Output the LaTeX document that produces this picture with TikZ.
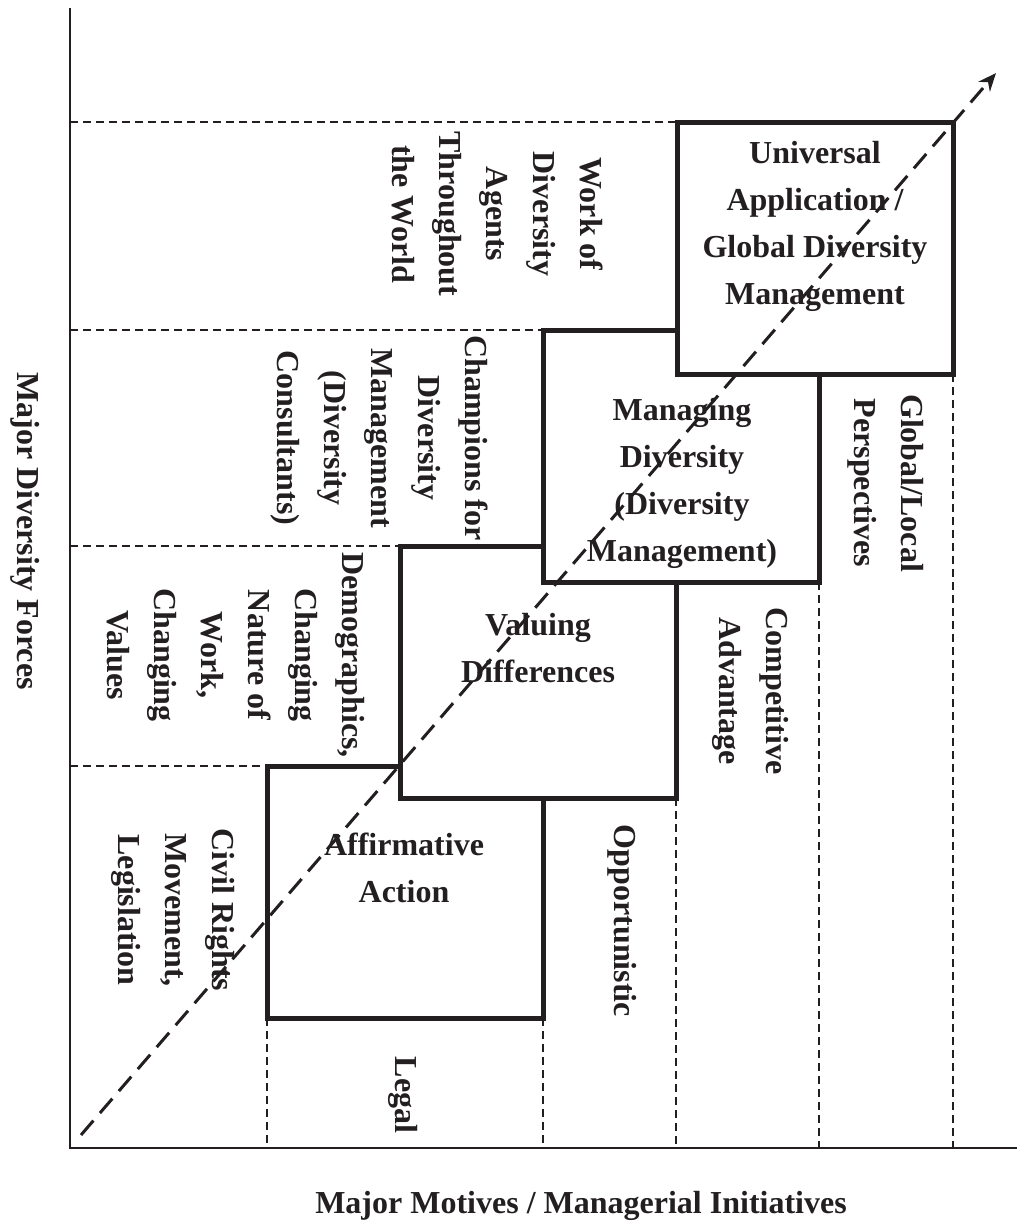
\documentclass[tikz,border=0pt]{standalone}
\usepackage{fontspec}
\setmainfont{Liberation Serif}
\usepackage{xcolor}
\usepackage{tikz}
\usetikzlibrary{arrows.meta}
\definecolor{ink}{RGB}{35,31,32}

\begin{document}
\begin{tikzpicture}[
    x=0.5pt, y=-0.5pt,
    every node/.style={text=ink, font=\bfseries\fontsize{16}{23.5}\selectfont},
    stage/.style={rectangle, draw=ink, fill=white, line width=2.5pt, outer sep=0pt, inner sep=0pt, minimum width=138pt, minimum height=126pt},
    stagetext/.style={align=center, inner sep=0pt},
    force/.style={align=center, rotate=-90, inner sep=0pt},
    axis/.style={draw=ink, line width=0.8pt},
    guide/.style={draw=ink, line width=0.6pt, dash pattern=on 4pt off 2.5pt},
    trend/.style={-{Stealth[length=9pt, width=7.5pt]}, draw=ink, line width=1.5pt, dash pattern=on 9.5pt off 5pt}
]
    \useasboundingbox (0,0) rectangle (1027,1223);

    \coordinate (origin) at (70,1148);
    \coordinate (ytop) at (70,8);
    \coordinate (xend) at (1017,1148);
    \coordinate (trendstart) at (81,1135);
    \coordinate (trendend) at (996,73);

    \draw [axis] (ytop) -- (origin) -- (xend);

    % the four stages, later ones lie over earlier ones
    \node [stage] (aa) at (405,892) {};
    \node [stage] (vd) at (538,672) {};
    \node [stage] (md) at (681,456) {};
    \node [stage] (ua) at (815,248) {};

    \draw [guide] (origin |- aa.north west) -- (aa.north west);
    \draw [guide] (origin |- vd.north west) -- (vd.north west);
    \draw [guide] (origin |- md.north west) -- (md.north west);
    \draw [guide] (origin |- ua.north west) -- (ua.north west);
    \draw [guide] (aa.south west) -- (aa.south west |- origin);
    \draw [guide] (aa.south east) -- (aa.south east |- origin);
    \draw [guide] (vd.south east) -- (vd.south east |- origin);
    \draw [guide] (md.south east) -- (md.south east |- origin);
    \draw [guide] (ua.south east) -- (ua.south east |- origin);

    \node [stagetext] (aatext) at (404,868) {Affirmative\\Action};
    \node [stagetext] (vdtext) at (538,648) {Valuing\\Differences};
    \node [stagetext] (mdtext) at (682,483) {Managing\\Diversity\\(Diversity\\Management)};
    \node [stagetext] (uatext) at (815,226) {Universal\\Application /\\Global Diversity\\Management};

    \node [force] (civil) at (173,910) {Civil Rights\\Movement,\\Legislation};
    \node [force] (demo) at (236,655) {Demographics,\\Changing\\Nature of\\Work,\\Changing\\Values};
    \node [force] (champ) at (379,438) {Champions for\\Diversity\\Management\\(Diversity\\Consultants)};
    \node [force] (agents) at (498,214) {Work of\\Diversity\\Agents\\Throughout\\the World};

    \node [force] (legal) at (403,1095) {Legal};
    \node [force] (opport) at (622,921) {Opportunistic};
    \node [force] (compet) at (751,691) {Competitive\\Advantage};
    \node [force] (glocal) at (886,483) {Global/Local\\Perspectives};

    \node [force] (ylabel) at (25,531) {Major Diversity Forces};
    \node [anchor=base, inner sep=0pt] (xlabel) at (581,1213) {Major Motives / Managerial Initiatives};

    \draw [trend] (trendstart) -- (trendend);
\end{tikzpicture}
\end{document}
